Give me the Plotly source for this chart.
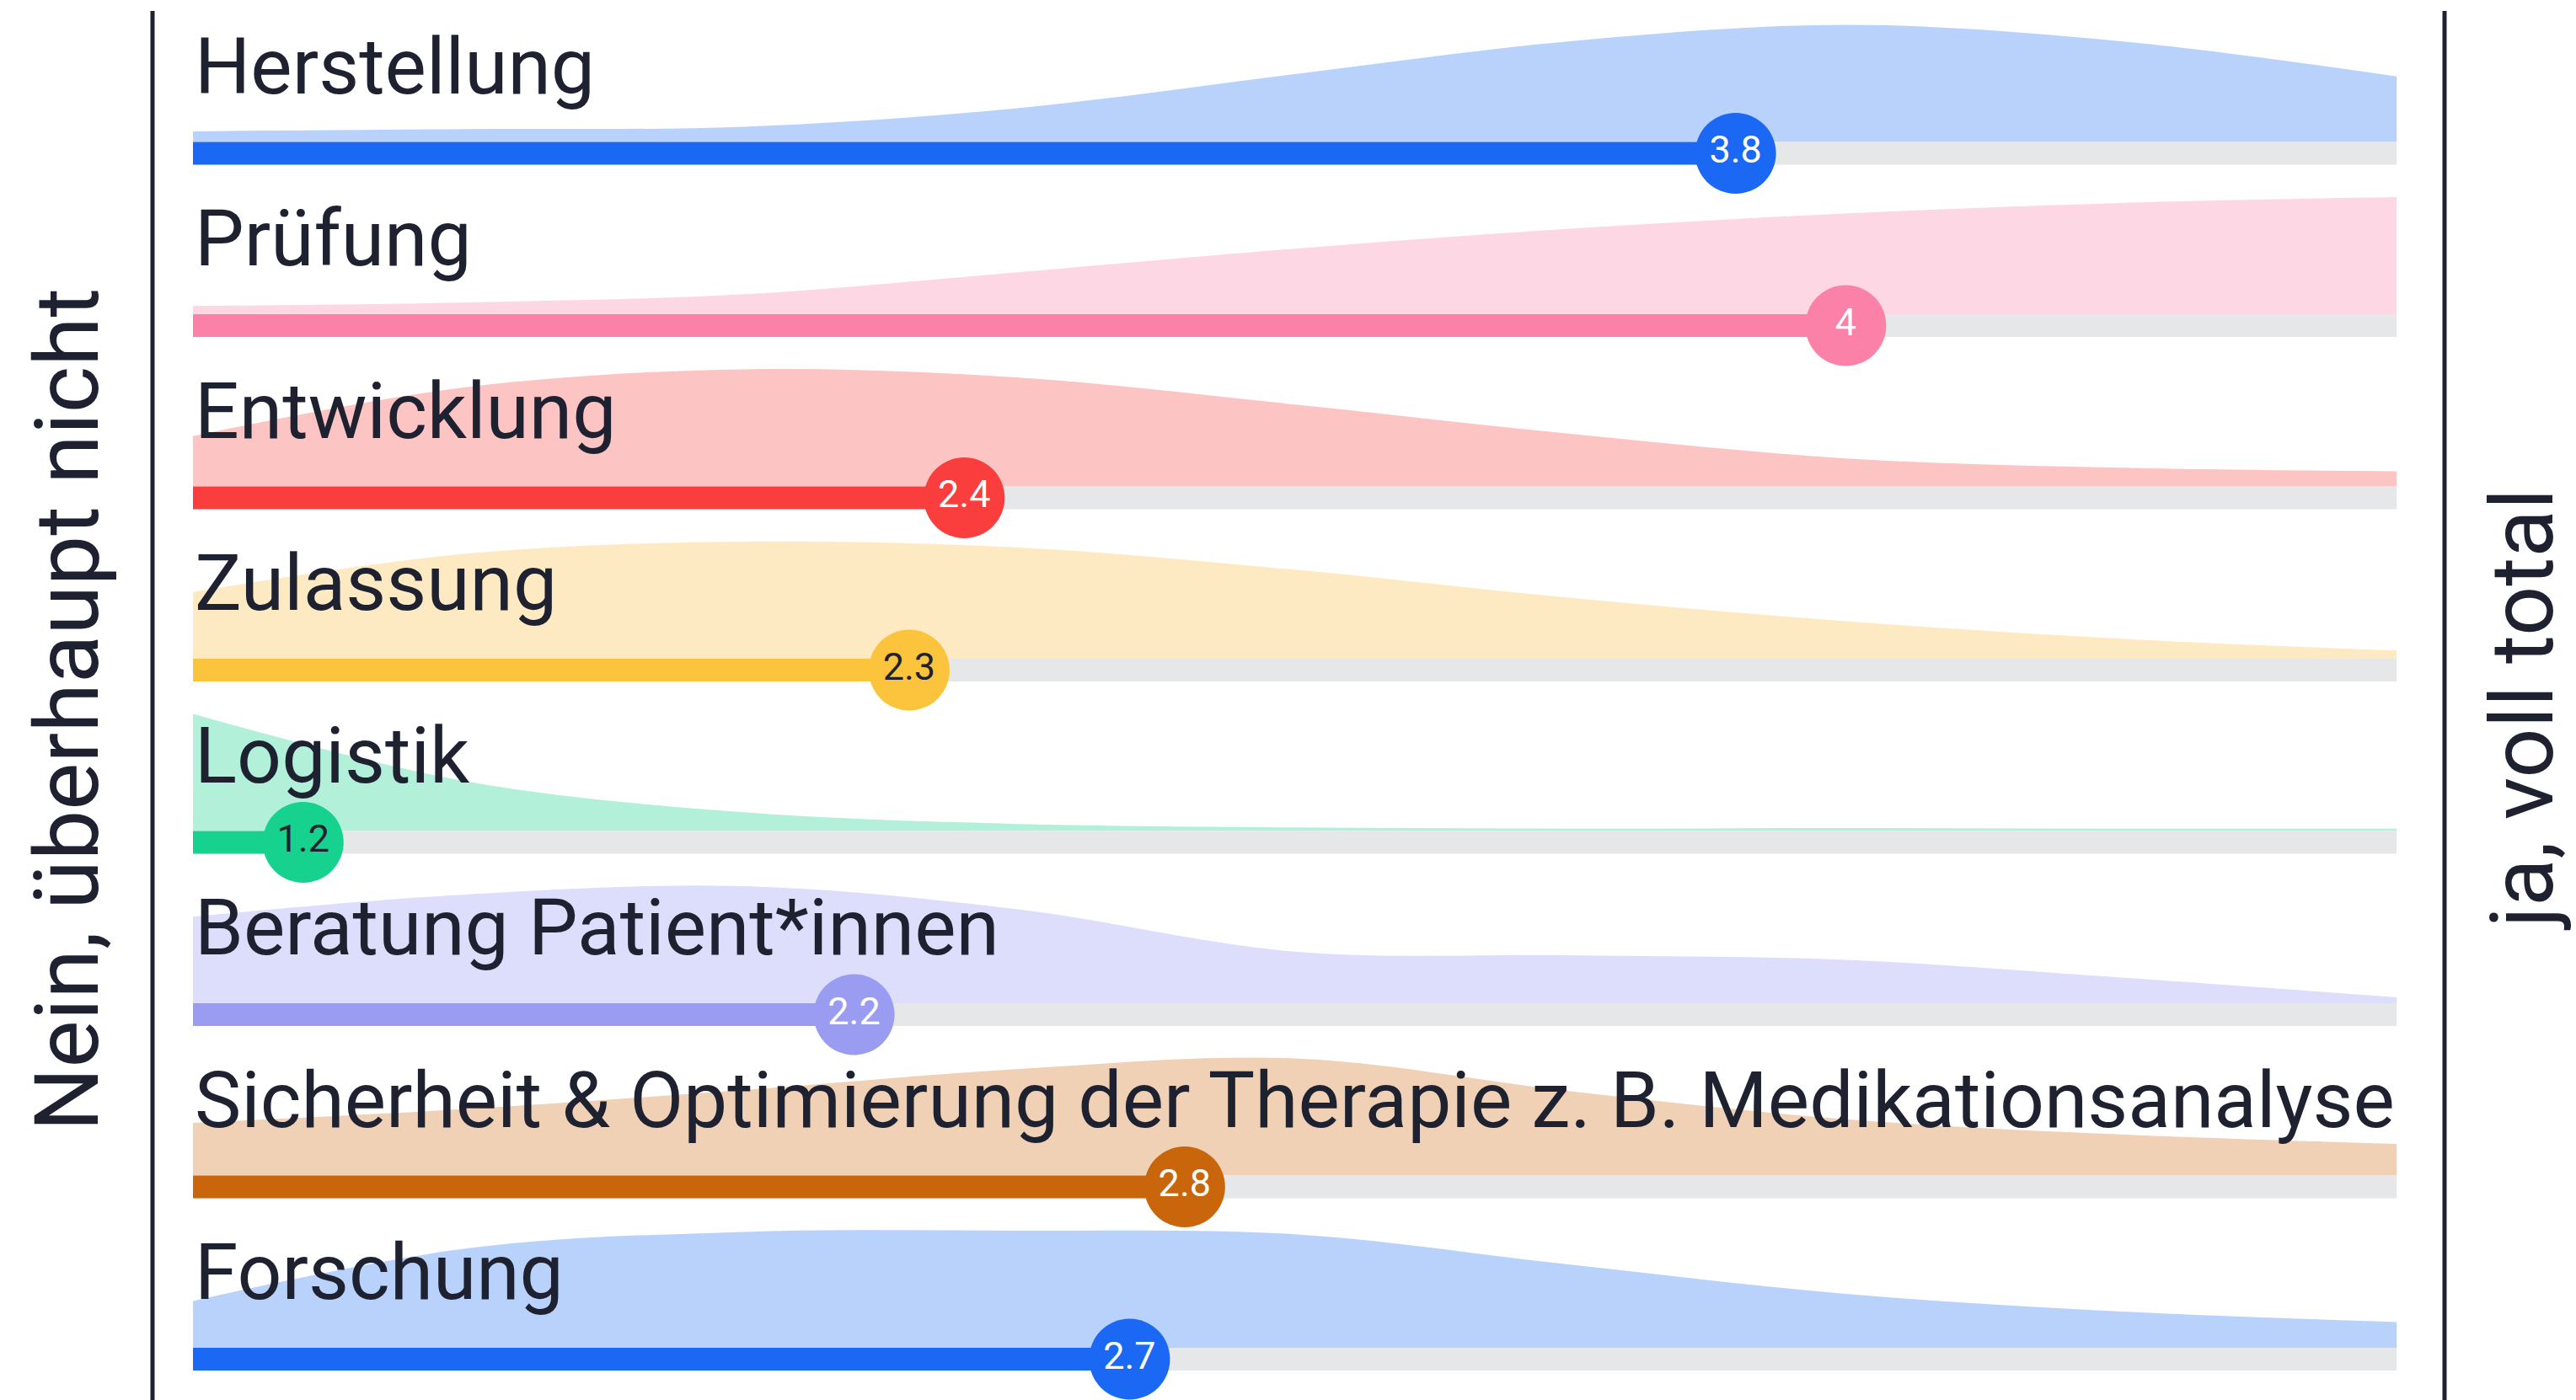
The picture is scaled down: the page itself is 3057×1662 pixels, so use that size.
import plotly.graph_objects as go

# ---------------- data ----------------
categories = ["Herstellung", "Prüfung", "Entwicklung", "Zulassung", "Logistik",
              "Beratung Patient*innen",
              "Sicherheit & Optimierung der Therapie z. B. Medikationsanalyse",
              "Forschung"]
means = [3.8, 4.0, 2.4, 2.3, 1.2, 2.2, 2.8, 2.7]
mean_labels = ["3.8", "4", "2.4", "2.3", "1.2", "2.2", "2.8", "2.7"]

# relative distribution height (max = 1) at each scale point
scale_points = [1, 1.5, 2, 2.5, 3, 3.5, 4, 4.5, 5]
dens_herstellung = [0.09, 0.11, 0.13, 0.29, 0.58, 0.86, 1.00, 0.86, 0.56]
dens_pruefung    = [0.07, 0.10, 0.17, 0.36, 0.56, 0.73, 0.86, 0.95, 1.00]
dens_entwicklung = [0.43, 0.85, 1.00, 0.93, 0.70, 0.45, 0.24, 0.16, 0.13]
dens_zulassung   = [0.57, 0.90, 1.00, 0.95, 0.76, 0.52, 0.32, 0.17, 0.07]
dens_logistik    = [1.00, 0.42, 0.16, 0.06, 0.03, 0.02, 0.025, 0.02, 0.02]
dens_beratung    = [0.74, 0.93, 1.00, 0.80, 0.44, 0.41, 0.37, 0.22, 0.05]
dens_sicherheit  = [0.45, 0.57, 0.73, 0.91, 1.00, 0.72, 0.48, 0.35, 0.27]
dens_forschung   = [0.40, 0.85, 0.99, 1.00, 0.97, 0.71, 0.46, 0.31, 0.22]
densities = [dens_herstellung, dens_pruefung, dens_entwicklung, dens_zulassung,
             dens_logistik, dens_beratung, dens_sicherheit, dens_forschung]

scale_min, scale_max = 1, 5
left_title = "Nein, überhaupt nicht"
right_title = "ja, voll total"

# ---------------- styles ----------------
bar_colors = ["#1b68f5", "#fb81a8", "#fa3e3e", "#fcc43c", "#17d28e", "#9a9cf1", "#c9660b", "#1b68f5"]
fill_colors = ["#b9d2fb", "#fdd7e3", "#fdc4c4", "#feeac2", "#b2f0da", "#dddefb", "#f0d1b6", "#b9d2fb"]
label_text_colors = ["#ffffff", "#ffffff", "#ffffff", "#1e2230", "#1e2230", "#ffffff", "#ffffff", "#ffffff"]
track_color = "#e5e7e9"
text_color = "#1e2230"
FONT = "Roboto"

W, H = 3057, 1662
px_per_unit_x = 653.8
x0_px = 229
row_px = 204.5
row0_px = 182
bar_w = 27
half_bar = (bar_w / 2) / row_px
dens_scale = 139 / row_px

fig = go.Figure()

for i, cat in enumerate(categories):
    base = i - half_bar
    # distribution area
    fig.add_trace(go.Scatter(x=scale_points, y=[base] * len(scale_points), mode="lines",
                             line=dict(width=0, color=fill_colors[i]), hoverinfo="skip",
                             showlegend=False))
    fig.add_trace(go.Scatter(x=scale_points, y=[base - d * dens_scale for d in densities[i]],
                             mode="lines", line=dict(width=0, color=fill_colors[i], shape="spline"),
                             fill="tonexty", fillcolor=fill_colors[i], hoverinfo="skip",
                             showlegend=False))

for i, cat in enumerate(categories):
    # track
    fig.add_trace(go.Scatter(x=[scale_min, scale_max], y=[i, i], mode="lines",
                             line=dict(width=bar_w, color=track_color), hoverinfo="skip",
                             showlegend=False))
    # value bar
    fig.add_trace(go.Scatter(x=[scale_min, means[i]], y=[i, i], mode="lines",
                             line=dict(width=bar_w, color=bar_colors[i]), hoverinfo="skip",
                             showlegend=False))

for i, cat in enumerate(categories):
    fig.add_trace(go.Scatter(x=[means[i]], y=[i], mode="markers+text",
                             marker=dict(size=96, color=bar_colors[i], line=dict(width=0)),
                             text=[mean_labels[i]], textposition="middle center",
                             textfont=dict(family=FONT, size=45, color=label_text_colors[i]),
                             hoverinfo="skip", showlegend=False))
    fig.add_annotation(x=scale_min, y=i - 0.225, xref="x", yref="y", text=cat,
                       showarrow=False, xanchor="left", yanchor="bottom",
                       font=dict(family=FONT, size=93, color=text_color))

# side titles
fig.add_annotation(x=80 / W, y=1 - 843 / H, xref="paper", yref="paper", text=left_title,
                   textangle=-90, showarrow=False, xanchor="center", yanchor="middle",
                   font=dict(family=FONT, size=106, color=text_color))
fig.add_annotation(x=2993 / W, y=1 - 843 / H, xref="paper", yref="paper", text=right_title,
                   textangle=-90, showarrow=False, xanchor="center", yanchor="middle",
                   font=dict(family=FONT, size=104, color=text_color))

# frame lines
for xp in [181, 2901]:
    fig.add_shape(type="line", xref="paper", yref="paper", x0=xp / W, x1=xp / W,
                  y0=0, y1=1 - 13 / H, line=dict(color=text_color, width=5))

x_lo = scale_min - x0_px / px_per_unit_x
x_hi = x_lo + W / px_per_unit_x
y_top = -row0_px / row_px
y_bot = y_top + H / row_px

fig.update_layout(
    width=W, height=H,
    margin=dict(l=0, r=0, t=0, b=0),
    paper_bgcolor="white", plot_bgcolor="white",
    xaxis=dict(range=[x_lo, x_hi], visible=False, fixedrange=True),
    yaxis=dict(range=[y_bot, y_top], visible=False, fixedrange=True),
    showlegend=False,
)

fig.write_html("out.html", config={"displayModeBar": False},
               post_script="document.body.style.margin='0';document.body.style.overflow='hidden';")
